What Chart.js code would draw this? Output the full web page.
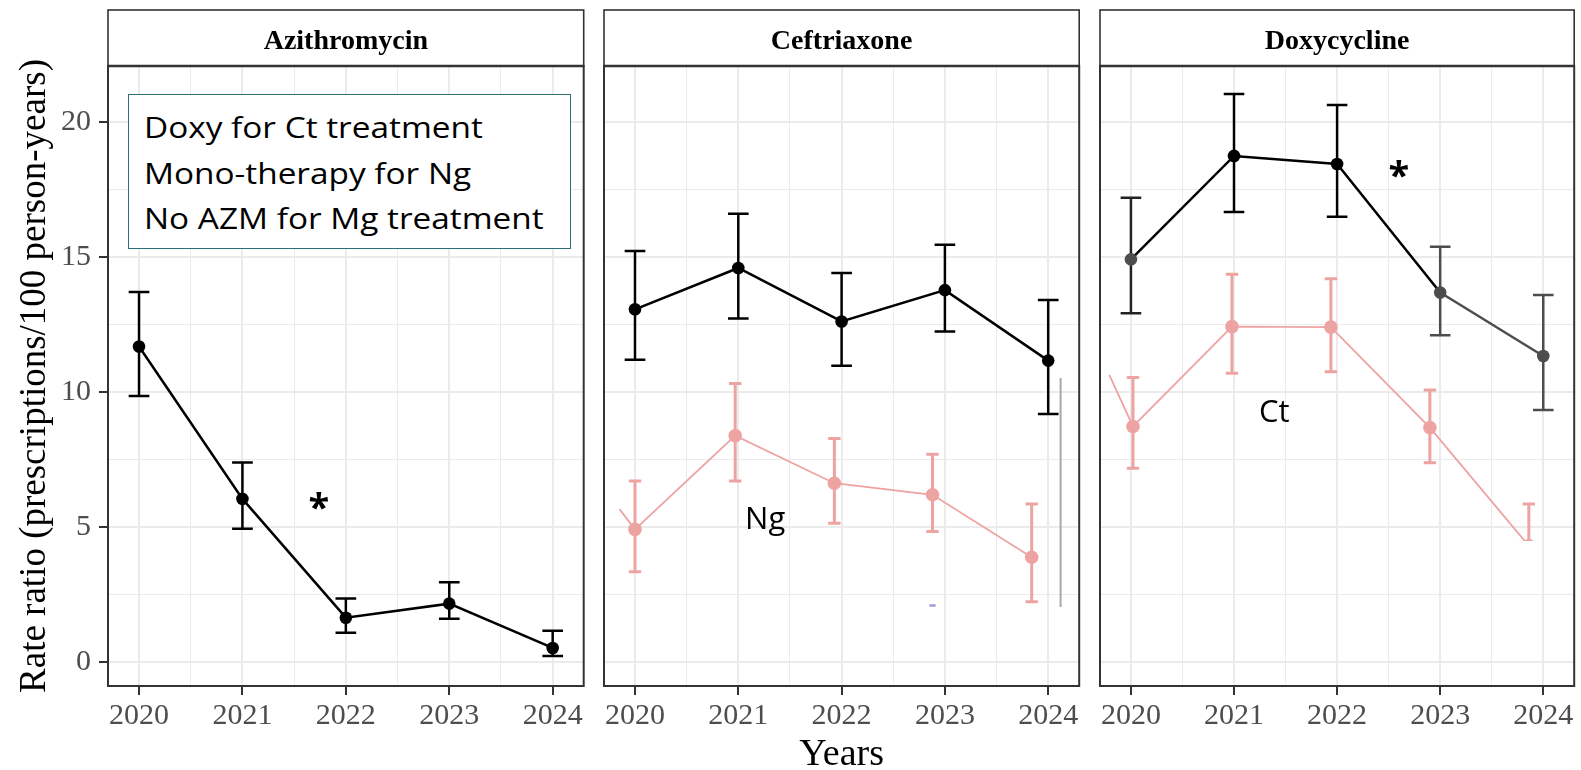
<!DOCTYPE html>
<html>
<head>
<meta charset="utf-8">
<script src="https://cdn.jsdelivr.net/npm/chart.js@4.4.1/dist/chart.umd.min.js"></script>
<style>
  html, body { margin: 0; padding: 0; background: #fff; width: 1581px; height: 770px; overflow: hidden; }
  canvas { position: absolute; top: 0; }
  #note {
    position: absolute; left: 128px; top: 94px; width: 443px; height: 155px; box-sizing: border-box;
    border: 1.5px solid #2d6f76; background: #fff; padding: 9px 0 0 15px;
    font-family: "Open Sans", sans-serif; font-size: 29px; line-height: 45.5px; color: #000; white-space: nowrap;
  }
  #note span { display: inline-block; transform: scaleX(1.15); transform-origin: left center; }
</style>
</head>
<body>
<canvas id="azm" width="590" height="770" style="left:0"></canvas>
<canvas id="cef" width="496" height="770" style="left:590px"></canvas>
<canvas id="dox" width="495" height="770" style="left:1086px"></canvas>
<div id="note"><span>Doxy for Ct treatment</span><br><span>Mono-therapy for Ng</span><br><span>No AZM for Mg treatment</span></div>
<script>
Chart.defaults.font.family = '"Liberation Serif", "Times New Roman", serif';
Chart.defaults.color = "#4d4d4d";

// axes
const xTicks = [2020, 2020.5, 2021, 2021.5, 2022, 2022.5, 2023, 2023.5, 2024];
const yTicks = [0, 2.5, 5, 7.5, 10, 12.5, 15, 17.5, 20];
const X_MIN = 2019.7, X_MAX = 2024.3, Y_MIN = -0.89, Y_MAX = 22.07;

// rate ratio per year, with 95% CI
const years = [2020, 2021, 2022, 2023, 2024];
const azmRate = [11.68, 6.04, 1.64, 2.16, 0.52];
const azmLow = [9.85, 4.93, 1.08, 1.6, 0.22];
const azmHigh = [13.7, 7.39, 2.35, 2.95, 1.16];
const cefRate = [13.06, 14.59, 12.61, 13.77, 11.16];
const cefLow = [11.19, 12.72, 10.97, 12.24, 9.18];
const cefHigh = [15.22, 16.6, 14.4, 15.45, 13.4];
const doxRate = [14.91, 18.74, 18.44, 13.68, 11.33];
const doxLow = [12.91, 16.66, 16.49, 12.1, 9.33];
const doxHigh = [17.19, 21.03, 20.63, 15.38, 13.59];

// pasted-in overlay curves (first point is the cut-off tail, x drifts in the source)
const ngYears = [2019.85, 2020, 2020.97, 2021.93, 2022.88, 2023.84];
const ngRate = [5.66, 4.91, 8.38, 6.62, 6.19, 3.88];
const ngLow = [null, 3.34, 6.7, 5.14, 4.83, 2.23];
const ngHigh = [null, 6.7, 10.31, 8.28, 7.69, 5.85];
const ctYears = [2019.79, 2020.02, 2020.98, 2021.94, 2022.9, 2023.86];
const ctRate = [10.63, 8.72, 12.42, 12.4, 8.68, 4.3];
const ctLow = [null, 7.17, 10.69, 10.75, 7.38, 2.9];
const ctHigh = [null, 10.53, 14.36, 14.19, 10.07, 5.85];

// stray marks left over from the pasted overlay
const strayLineX = [2024.12, 2024.12];
const strayLineY = [10.52, 2.04];
const strayDashX = [2022.85, 2022.91];
const strayDashY = [2.09, 2.09];

const BLACK = "#000", GREY = "#4d4d4d", PINK = "#eea3a3";

const pts = (xs, ys) => xs.map((x, i) => ({ x, y: ys[i] }));

const blackSeries = (rate, lo, hi) => ({
  data: pts(years, rate), errLow: lo, errHigh: hi,
  borderColor: BLACK, borderWidth: 2.5, pointRadius: 6.3, pointBorderWidth: 0,
  pointBackgroundColor: BLACK, errColor: BLACK, errWidth: 2.5, capHalf: 0.1,
});

const pinkSeries = (xs, rate, lo, hi) => ({
  data: pts(xs, rate), errLow: lo, errHigh: hi,
  borderColor: PINK, borderWidth: 1.8, pointRadius: xs.map((_, i) => (i ? 6.8 : 0)), pointBorderWidth: 0,
  pointBackgroundColor: PINK, errColor: PINK, errWidth: 3, capHalf: 0.06,
});

const stray = (xs, ys, color, w) => ({ data: pts(xs, ys), borderColor: color, borderWidth: w, pointRadius: 0 });

const decor = {
  id: "panelDecor",
  beforeDatasetsDraw(chart) {
    const { ctx, chartArea: a, scales: { x, y } } = chart;
    chart.data.datasets.forEach((ds) => {
      if (!ds.errLow) return;
      const cb = ds.clip && typeof ds.clip === "object" ? ds.clip.bottom : 0;
      ctx.save();
      ctx.beginPath();
      ctx.rect(a.left, a.top, a.width, a.height + cb);
      ctx.clip();
      ds.data.forEach((p, i) => {
        const lo = ds.errLow[i], hi = ds.errHigh[i];
        if (lo == null) return;
        const px = x.getPixelForValue(p.x);
        const c0 = x.getPixelForValue(p.x - ds.capHalf), c1 = x.getPixelForValue(p.x + ds.capHalf);
        const yl = y.getPixelForValue(lo), yh = y.getPixelForValue(hi);
        ctx.strokeStyle = Array.isArray(ds.errColor) ? ds.errColor[i] : ds.errColor;
        ctx.lineWidth = ds.errWidth;
        ctx.beginPath();
        ctx.moveTo(px, yl); ctx.lineTo(px, yh);
        ctx.moveTo(c0, yl); ctx.lineTo(c1, yl);
        ctx.moveTo(c0, yh); ctx.lineTo(c1, yh);
        ctx.stroke();
      });
      ctx.restore();
    });
  },
  afterDraw(chart, args, opts) {
    const { ctx, chartArea: a, scales: { x, y } } = chart;
    ctx.save();
    // notes
    (opts.notes || []).forEach((n) => {
      ctx.font = n.font;
      ctx.fillStyle = "#000";
      ctx.textAlign = "center";
      ctx.textBaseline = "alphabetic";
      const m = ctx.measureText(n.text);
      const cy = y.getPixelForValue(n.y);
      ctx.fillText(n.text, x.getPixelForValue(n.x), cy + (m.actualBoundingBoxAscent - m.actualBoundingBoxDescent) / 2);
    });
    // panel border
    ctx.strokeStyle = "#333";
    ctx.lineWidth = 2;
    ctx.strokeRect(a.left, a.top, a.width, a.height);
    // strip
    ctx.lineWidth = 1.6;
    ctx.strokeRect(a.left, 10, a.width, a.top - 10);
    ctx.lineWidth = 2.6;
    ctx.beginPath(); ctx.moveTo(a.left, a.top); ctx.lineTo(a.right, a.top); ctx.stroke();
    ctx.font = 'bold 28px "Liberation Serif", "Times New Roman", serif';
    ctx.fillStyle = "#000";
    ctx.textAlign = "center";
    ctx.textBaseline = "alphabetic";
    ctx.fillText(opts.title, (a.left + a.right) / 2, 49);
    ctx.restore();
  },
};

function panel(id, cfg) {
  const isMajorX = (c) => c.tick && Number.isInteger(c.tick.value);
  const isMajorY = (c) => c.tick && c.tick.value % 5 === 0;
  return new Chart(document.getElementById(id), {
    type: "line",
    data: { datasets: cfg.datasets },
    options: {
      responsive: false,
      animation: false,
      devicePixelRatio: 1,
      layout: { padding: { top: 66, right: cfg.padRight, bottom: 0, left: 0 } },
      plugins: {
        legend: { display: false },
        tooltip: { enabled: false },
        panelDecor: { title: cfg.title, notes: cfg.notes },
      },
      scales: {
        x: {
          type: "linear", min: X_MIN, max: X_MAX, bounds: "data",
          afterBuildTicks: (s) => { s.ticks = xTicks.map((v) => ({ value: v })); },
          afterFit: (s) => { s.height = 84; },
          ticks: {
            autoSkip: false, maxRotation: 0, padding: 3, color: "#4d4d4d", font: { size: 30 },
            callback: (v) => (Number.isInteger(v) ? String(v) : ""),
          },
          grid: {
            color: "#ebebeb", lineWidth: (c) => (isMajorX(c) ? 2 : 1),
            tickLength: 9, tickWidth: 2, tickColor: (c) => (isMajorX(c) ? "#333" : "rgba(0,0,0,0)"),
          },
          border: { display: false },
          title: cfg.xTitle
            ? { display: true, text: cfg.xTitle, color: "#000", font: { size: 38, lineHeight: 0.8 }, padding: { top: 0, bottom: 0 } }
            : { display: false },
        },
        y: {
          type: "linear", min: Y_MIN, max: Y_MAX, bounds: "data",
          afterBuildTicks: (s) => { s.ticks = yTicks.map((v) => ({ value: v })); },
          afterFit: (s) => { s.width = cfg.axisWidth; },
          ticks: {
            display: !!cfg.yTitle, padding: 8, color: "#4d4d4d", font: { size: 30 },
            callback: (v) => (v % 5 === 0 ? String(v) : ""),
          },
          grid: {
            color: "#ebebeb", lineWidth: (c) => (isMajorY(c) ? 2 : 1),
            drawTicks: !!cfg.yTitle, tickLength: 9, tickWidth: 2,
            tickColor: (c) => (isMajorY(c) ? "#333" : "rgba(0,0,0,0)"),
          },
          border: { display: false },
          title: cfg.yTitle
            ? { display: true, text: cfg.yTitle, color: "#000", font: { size: 37 }, padding: { top: 13, bottom: 0 } }
            : { display: false },
        },
      },
    },
    plugins: [decor],
  });
}

const SANS = '"Open Sans", sans-serif';

panel("azm", {
  title: "Azithromycin", axisWidth: 108, padRight: 5,
  yTitle: "Rate ratio (prescriptions/100 person-years)",
  datasets: [blackSeries(azmRate, azmLow, azmHigh)],
  notes: [{ x: 2021.74, y: 5.96, text: "*", font: `bold 38px ${SANS}` }],
});

panel("cef", {
  title: "Ceftriaxone", axisWidth: 14, padRight: 5, xTitle: "Years",
  datasets: [
    stray(strayLineX, strayLineY, "#a8a8a8", 2),
    stray(strayDashX, strayDashY, "#9c9cd6", 2.5),
    pinkSeries(ngYears, ngRate, ngLow, ngHigh),
    blackSeries(cefRate, cefLow, cefHigh),
  ],
  notes: [{ x: 2021.26, y: 5.22, text: "Ng", font: `31px ${SANS}` }],
});

const doxBlack = blackSeries(doxRate, doxLow, doxHigh);
doxBlack.pointBackgroundColor = [GREY, BLACK, BLACK, GREY, GREY];
doxBlack.errColor = ["#222", BLACK, BLACK, GREY, GREY];
doxBlack.segment = { borderColor: (c) => (c.p0DataIndex >= 3 ? GREY : BLACK) };

const ctPink = pinkSeries(ctYears, ctRate, ctLow, ctHigh);
ctPink.clip = { left: 5, top: 5, right: 5, bottom: -145 };

panel("dox", {
  title: "Doxycycline", axisWidth: 14, padRight: 4,
  datasets: [ctPink, doxBlack],
  notes: [
    { x: 2021.39, y: 9.28, text: "Ct", font: `31px ${SANS}` },
    { x: 2022.6, y: 18.25, text: "*", font: `bold 38px ${SANS}` },
  ],
});
</script>
</body>
</html>
